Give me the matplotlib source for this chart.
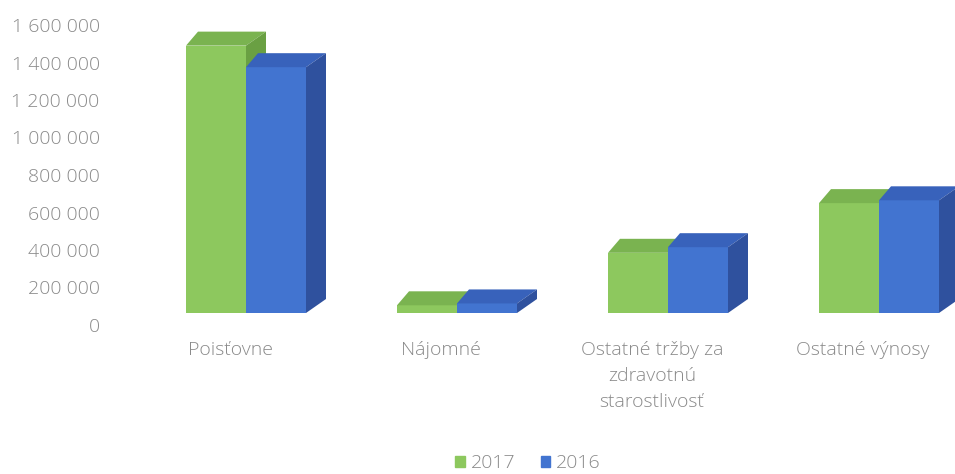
import matplotlib.pyplot as plt
from matplotlib.patches import Polygon, Patch

# data
categories = ["Poisťovne", "Nájomné", "Ostatné tržby za\nzdravotnú\nstarostlivosť", "Ostatné výnosy"]
years = ["2017", "2016"]
values_2017 = [1490000, 105000, 385000, 650000]
values_2016 = [1375000, 115000, 415000, 665000]
y_ticks = [0, 200000, 400000, 600000, 800000, 1000000, 1200000, 1400000, 1600000]

# style
front = {"2017": "#8dc85e", "2016": "#4274d0"}
top = {"2017": "#7ab350", "2016": "#3862bb"}
side = {"2017": "#6aa043", "2016": "#2f519e"}
text_col = "#8a8a8a"
plt.rcParams['font.family'] = ['Open Sans', 'DejaVu Sans']
plt.rcParams['font.weight'] = 'light'

W, H, DPI = 955, 474, 100
fig = plt.figure(figsize=(W / DPI, H / DPI), dpi=DPI)

# axes: left at px 108, bottom at px 330
ax = fig.add_axes([108 / W, (H - 330) / H, 1 - 108 / W, 330 / H])
px_per_cat = 211.0
px_per_val = 187.5 / 1e6
ax.set_xlim((108 - 246) / px_per_cat, (W - 246) / px_per_cat)
ax.set_ylim((325 - 330) / px_per_val, 325 / px_per_val)

bw = 60 / px_per_cat          # bar width
dx = 20 / px_per_cat          # depth offset x
dxl = 12 / px_per_cat         # depth offset of the left back corner (perspective)
dy = 14 / px_per_val          # depth offset y
floor = 12 / px_per_val       # front face bottom level

for i in range(len(categories)):
    for k, (yr, vals) in enumerate([("2017", values_2017), ("2016", values_2016)]):
        x0 = i - bw + k * bw
        x1 = x0 + bw
        v = vals[i]
        ax.bar(x0, v - floor, width=bw, bottom=floor, align='edge',
               color=front[yr], edgecolor='none', zorder=2)
        ax.add_patch(Polygon([(x0, v), (x1, v), (x1 + dx, v + dy), (x0 + dxl, v + dy)],
                             closed=True, facecolor=top[yr], edgecolor='none', zorder=2))
        ax.add_patch(Polygon([(x1, floor), (x1, v), (x1 + dx, v + dy), (x1 + dx, floor + dy)],
                             closed=True, facecolor=side[yr], edgecolor='none', zorder=2))

for s in ax.spines.values():
    s.set_visible(False)

ax.set_yticks(y_ticks)
ax.set_yticklabels([f"{t:,}".replace(",", " ") for t in y_ticks])
ax.set_xticks([i - 0.075 for i in range(len(categories))])
ax.set_xticklabels(categories, linespacing=1.55, multialignment='center')
ax.tick_params(axis='y', length=0, pad=6, labelsize=14, labelcolor=text_col)
ax.tick_params(axis='x', length=0, pad=8, labelsize=14, labelcolor=text_col)

handles = [Patch(color=front[y]) for y in years]
fig.legend(handles, years, loc='center', bbox_to_anchor=(528 / W, 1 - 463 / H),
           ncol=2, frameon=False, handlelength=0.5, handleheight=0.5,
           handletextpad=0.3, columnspacing=1.3, fontsize=14, labelcolor=text_col)

fig.savefig("out.png", dpi=DPI)
